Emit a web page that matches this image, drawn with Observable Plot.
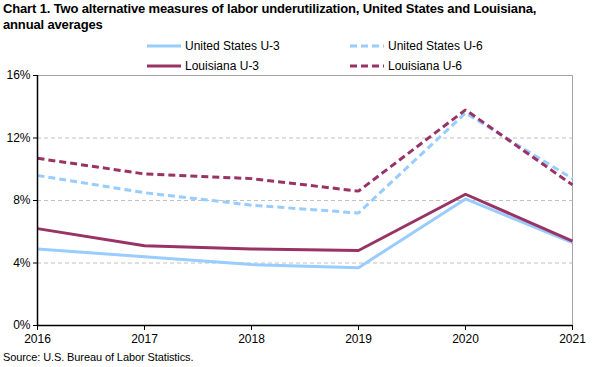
<!DOCTYPE html>
<html>
<head>
<meta charset="utf-8">
<script src="https://cdn.jsdelivr.net/npm/d3@7"></script>
<script src="https://cdn.jsdelivr.net/npm/@observablehq/plot@0.6"></script>
<style>
  html, body { margin: 0; padding: 0; background: #fff; }
  body { width: 596px; height: 367px; position: relative; overflow: hidden; font-family: "Liberation Sans", Arial, sans-serif; color: #000; }
  #title { position: absolute; left: 3px; top: 1px; font-size: 13px; font-weight: bold; line-height: 16px; letter-spacing: -0.15px; white-space: nowrap; }
  .leg { position: absolute; font-size: 12px; line-height: 14px; display: flex; align-items: center; white-space: nowrap; }
  .leg svg { margin-right: 4px; }
  #caption { position: absolute; left: 3px; top: 351px; font-size: 11px; letter-spacing: -0.1px; }
  #chart { position: absolute; left: 0; top: 0; }
</style>
</head>
<body>
<div id="chart"></div>
<div id="title">Chart 1. Two alternative measures of labor underutilization, United States and Louisiana,<br>annual averages</div>
<div id="legend"></div>
<div id="caption">Source: U.S. Bureau of Labor Statistics.</div>
<script>
const years = [2016, 2017, 2018, 2019, 2020, 2021];
const usU3 = [4.9, 4.4, 3.9, 3.7, 8.1, 5.3];
const usU6 = [9.6, 8.5, 7.7, 7.2, 13.6, 9.4];
const laU3 = [6.2, 5.1, 4.9, 4.8, 8.4, 5.4];
const laU6 = [10.7, 9.7, 9.4, 8.6, 13.8, 9.0];
const seriesNames = ["United States U-3", "United States U-6", "Louisiana U-3", "Louisiana U-6"];
const yTicks = [0, 4, 8, 12, 16];

const blue = "#99ccff", maroon = "#993366";
const styles = {
  "United States U-3": {stroke: blue, dash: null},
  "United States U-6": {stroke: blue, dash: "7,4"},
  "Louisiana U-3": {stroke: maroon, dash: null},
  "Louisiana U-6": {stroke: maroon, dash: "7,4"}
};
const seriesValues = [usU3, usU6, laU3, laU6];
const rows = [];
seriesNames.forEach((name, i) => years.forEach((yr, j) => rows.push({series: name, year: yr, value: seriesValues[i][j]})));

const lineMarks = seriesNames.map(name => Plot.line(rows.filter(r => r.series === name), {
  x: "year", y: "value", stroke: styles[name].stroke, strokeWidth: 3,
  strokeDasharray: styles[name].dash, strokeLinejoin: "miter", strokeLinecap: "butt"
}));

const chart = Plot.plot({
  width: 596, height: 367,
  marginLeft: 37, marginRight: 24, marginTop: 75, marginBottom: 42,
  style: {fontFamily: "'Liberation Sans', Arial, sans-serif", fontSize: "12px", color: "#000", background: "transparent"},
  x: {domain: [2016, 2021]},
  y: {domain: [0, 16]},
  marks: [
    Plot.ruleY(yTicks.filter(d => d > 0 && d < 16), {stroke: "#c0c0c0", strokeDasharray: "4,3", strokeWidth: 1}),
    Plot.ruleY([16], {stroke: "#a6a6a6", strokeWidth: 1}),
    Plot.ruleX([2021], {stroke: "#a6a6a6", strokeWidth: 1}),
    ...lineMarks,
    Plot.ruleY([0], {stroke: "#000", strokeWidth: 1.5}),
    Plot.ruleX([2016], {stroke: "#000", strokeWidth: 1.5}),
    Plot.axisY({ticks: yTicks, tickFormat: d => d + "%", tickSize: 4, tickPadding: 3, label: null, strokeOpacity: 1}),
    Plot.axisX({ticks: years, tickFormat: "d", tickSize: 5, tickPadding: 4, label: null, strokeOpacity: 1})
  ]
});
document.getElementById("chart").appendChild(chart);

// legend
const legPos = [
  {name: "United States U-3", left: 147, top: 39},
  {name: "United States U-6", left: 350, top: 39},
  {name: "Louisiana U-3", left: 147, top: 59},
  {name: "Louisiana U-6", left: 350, top: 59}
];
const legend = document.getElementById("legend");
legPos.forEach(p => {
  const s = styles[p.name];
  const div = document.createElement("div");
  div.className = "leg";
  div.style.left = p.left + "px";
  div.style.top = p.top + "px";
  div.innerHTML = `<svg width="34" height="8"><line x1="0" x2="34" y1="4" y2="4" stroke="${s.stroke}" stroke-width="3" ${s.dash ? `stroke-dasharray="${s.dash}"` : ""}/></svg><span>${p.name}</span>`;
  legend.appendChild(div);
});
</script>
</body>
</html>
